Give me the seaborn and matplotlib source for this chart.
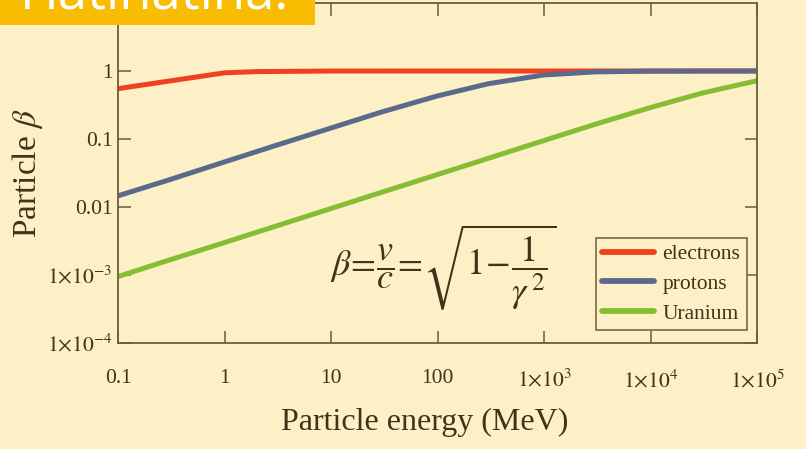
import matplotlib
matplotlib.use('Agg')
import matplotlib.pyplot as plt
import numpy as np
import pandas as pd
import seaborn as sns
from matplotlib.patches import Rectangle

BG = '#FDEFC6'
INK = '#3E3519'
FRAME = '#6B5E36'

# kinetic energy (MeV) and beta
electron_energy = [0.1, 1, 2, 10, 100, 1e3, 1e4, 1e5]
electron_beta = [0.55, 0.94, 0.98, 0.999, 1.0, 1.0, 1.0, 1.0]

proton_energy = [0.1, 0.3, 1, 3, 10, 30, 100, 300, 1e3, 3e3, 1e4, 3e4, 1e5]
proton_beta = [0.0146, 0.025, 0.046, 0.080, 0.145, 0.25, 0.43, 0.65, 0.875, 0.97, 0.996, 1.0, 1.0]

uranium_energy = [0.1, 0.3, 1, 3, 10, 30, 100, 300, 1e3, 3e3, 1e4, 3e4, 1e5]
uranium_beta = [9.5e-4, 1.65e-3, 3.0e-3, 5.2e-3, 9.5e-3, 0.0165, 0.030, 0.052, 0.095, 0.164, 0.29, 0.47, 0.72]

particles = ['electrons', 'protons', 'Uranium']
colors = ['#F0411E', '#5B6A8C', '#86BE33']

x_ticks = [0.1, 1, 10, 100, 1e3, 1e4, 1e5]
x_labels = ['0.1', '1', '10', '100', r'$1{\times}10^{3}$', r'$1{\times}10^{4}$', r'$1{\times}10^{5}$']
y_ticks = [1e-4, 1e-3, 0.01, 0.1, 1]
y_labels = [r'$1{\times}10^{-4}$', r'$1{\times}10^{-3}$', '0.01', '0.1', '1']

df = pd.concat([
    pd.DataFrame({'energy': electron_energy, 'beta': electron_beta, 'particle': 'electrons'}),
    pd.DataFrame({'energy': proton_energy, 'beta': proton_beta, 'particle': 'protons'}),
    pd.DataFrame({'energy': uranium_energy, 'beta': uranium_beta, 'particle': 'Uranium'}),
], ignore_index=True)

sns.set_style('ticks')
plt.rcParams['font.family'] = ['Liberation Serif', 'DejaVu Serif']
plt.rcParams['mathtext.fontset'] = 'stix'
plt.rcParams['text.color'] = INK
plt.rcParams['axes.labelcolor'] = INK
plt.rcParams['xtick.color'] = FRAME
plt.rcParams['ytick.color'] = FRAME
plt.rcParams['xtick.labelcolor'] = INK
plt.rcParams['ytick.labelcolor'] = INK

fig = plt.figure(figsize=(8.06, 4.49), dpi=100, facecolor=BG)
ax = fig.add_axes([118 / 806, 1 - 343 / 449, (757 - 118) / 806, (343 - 3) / 449])
ax.set_facecolor(BG)

sns.lineplot(data=df, x='energy', y='beta', hue='particle', hue_order=particles,
             palette=colors, linewidth=3.6, estimator=None, sort=False, ax=ax)

ax.set_xscale('log')
ax.set_yscale('log')
ax.set_xlim(0.1, 1e5)
ax.set_ylim(1e-4, 10)
ax.set_xticks(x_ticks, x_labels)
ax.set_yticks(y_ticks, y_labels)
ax.minorticks_off()
ax.tick_params(axis='both', which='major', direction='in', length=9, width=1.1,
               top=True, right=True, labelsize=15.5)
ax.tick_params(axis='x', pad=19)
ax.tick_params(axis='y', pad=4)
for s in ax.spines.values():
    s.set_color(FRAME)
    s.set_linewidth(1.3)

ax.set_xlabel('Particle energy (MeV)', fontsize=23)
ax.xaxis.set_label_coords(0.48, -0.19)
ax.set_ylabel(r'Particle $\beta$', fontsize=24)
ax.yaxis.set_label_coords(-0.114, 0.5)

leg = ax.legend(loc='lower right', bbox_to_anchor=(0.984, 0.038), borderaxespad=0,
                fontsize=15.5, handlelength=2.4, handletextpad=0.4, labelspacing=0.45,
                frameon=True, fancybox=False, borderpad=0.3)
leg.get_frame().set_edgecolor(FRAME)
leg.get_frame().set_facecolor(BG)
leg.get_frame().set_linewidth(1.1)
leg.get_frame().set_alpha(1)
for line in leg.get_lines():
    line.set_linewidth(4.2)

fig.text(443 / 806, 1 - 267 / 449,
         r'$\beta\!=\!\dfrac{v}{c}\!=\!\sqrt{1\!-\!\dfrac{1}{\gamma^{\,2}}}$',
         fontsize=26, ha='center', va='center', color=INK)

# orange banner at the top left
fig.add_artist(Rectangle((0, 1 - 25 / 449), 315 / 806, 25 / 449, transform=fig.transFigure,
                         facecolor='#F8BC00', edgecolor='none', zorder=10))
fig.text(20 / 806, 1 - 10 / 449, 'Hatihatiha!', fontsize=38, family='Open Sans',
         color='white', ha='left', va='baseline', zorder=11)

fig.savefig('out.png', dpi=100, facecolor=BG)
